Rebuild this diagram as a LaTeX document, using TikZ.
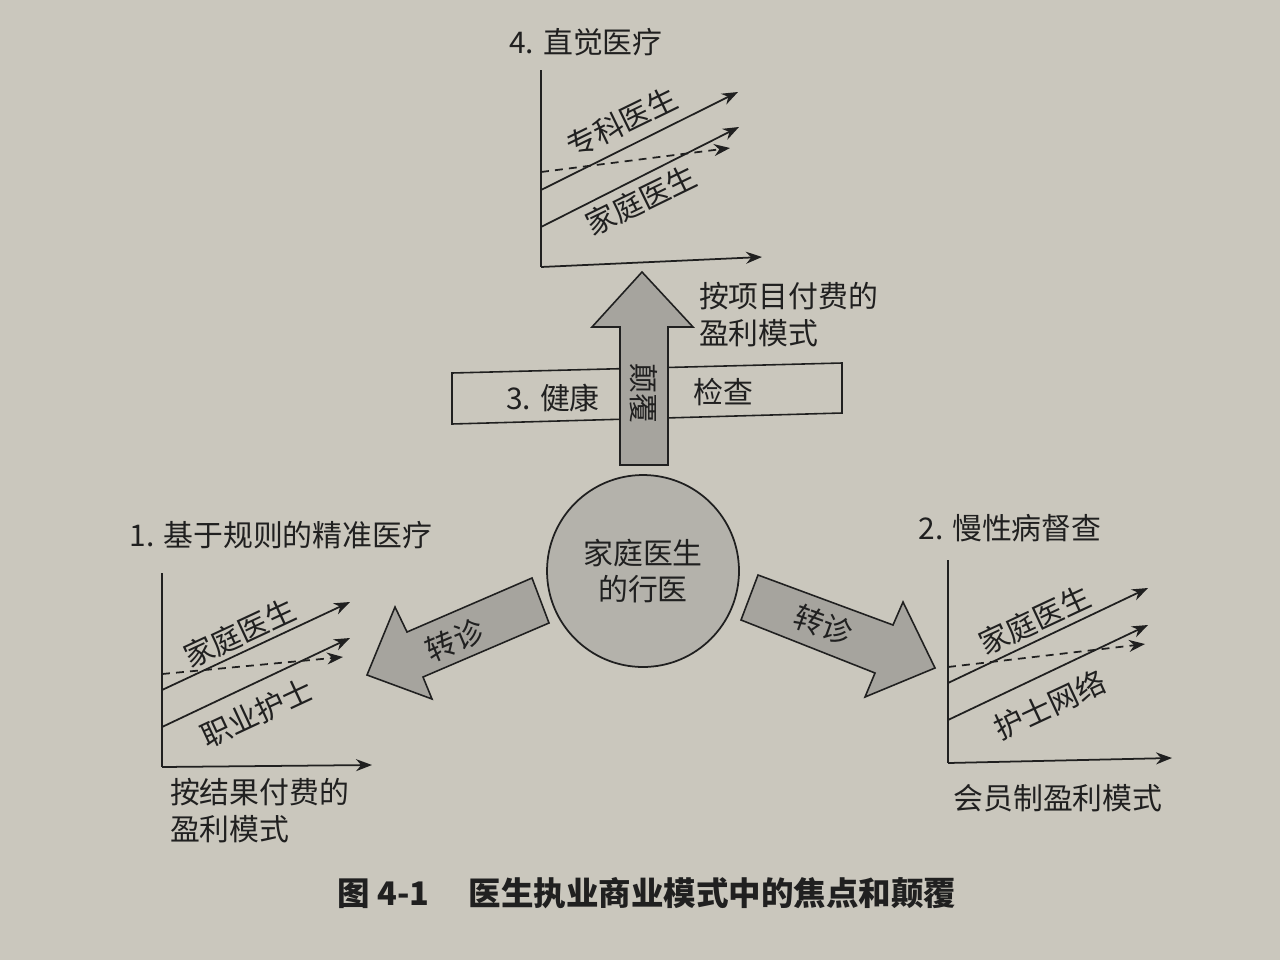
\documentclass[tikz,border=0pt]{standalone}
\usepackage{fontspec}
\setmainfont{Noto Sans CJK SC}
\usetikzlibrary{arrows.meta}
\definecolor{paper}{RGB}{202,199,189}
\definecolor{ink}{RGB}{32,32,32}
\definecolor{shade}{RGB}{166,164,158}
\definecolor{disc}{RGB}{180,178,171}

\begin{document}
\begin{tikzpicture}[x=0.02cm, y=-0.02cm,
  lbl/.style={font=\fontsize{17}{21}\selectfont, text=ink, inner sep=1pt},
  axis/.style={draw=ink, line width=1pt, -{Stealth[length=3.2mm, width=2.4mm]}},
  yaxis/.style={draw=ink, line width=1pt},
  guess/.style={axis, dash pattern=on 4.5pt off 3.5pt},
  bigarr/.style={draw=ink, line width=0.9pt, fill=shade, line join=miter},
  band/.style={draw=ink, line width=0.9pt, fill=paper}]
\fill[paper] (0,0) rectangle (1280,960);
\useasboundingbox (0,0) rectangle (1280,960);

% 4: intuitive care (top)
\node[lbl] (t4) at (586,42) {4. 直觉医疗};
\draw[yaxis] (541,70) -- (541,267);
\draw[axis] (541,267) -- (762,257);
\draw[axis] (541,190) -- (738,92);
\draw[axis] (541,227) -- (739,127);
\draw[guess] (541,172) -- (730,148);
\node[lbl, rotate=26] (sp4) at (622,122) {专科医生};
\node[lbl, rotate=26] (fd4) at (641,200) {家庭医生};
\node[lbl, anchor=west, align=left] (pay4) at (697,315) {按项目付费的\\盈利模式};

% 3: health check band, crossed by the disruption arrow
\draw[band] (452,373) -- (842,363) -- (842,413) -- (452,424) -- cycle;
\node[lbl] (t3) at (553,398) {3. 健康};
\node[lbl] (chk) at (723,392) {检查};
\draw[bigarr] (620,465) -- (620,327) -- (592,327) -- (642,272) -- (693,327)
  -- (668,327) -- (668,465) -- cycle;
\node[lbl, rotate=-90] (dis) at (644,393) {颠覆};

% hub
\node[lbl, circle, draw=ink, line width=1pt, fill=disc, minimum size=3.84cm,
      align=center] (hub) at (643,571) {家庭医生\\的行医};

% referral arrows
\draw[bigarr] (532,578) -- (407,632) -- (395,607) -- (367,675) -- (432,699)
  -- (423,677) -- (549,623) -- cycle;
\node[lbl, rotate=23] (refl) at (455,640) {转诊};
\draw[bigarr] (758,575) -- (893,625) -- (903,602) -- (935,668) -- (865,697)
  -- (875,673) -- (741,620) -- cycle;
\node[lbl, rotate=-20] (refr) at (823,625) {转诊};

% 1: rule-based precision care (left)
\node[lbl] (t1) at (281,535) {1. 基于规则的精准医疗};
\draw[yaxis] (162,573) -- (162,767);
\draw[axis] (162,767) -- (372,765);
\draw[axis] (162,690) -- (350,602);
\draw[axis] (162,727) -- (350,638);
\draw[guess] (162,674) -- (343,657);
\node[lbl, rotate=25] (fd1) at (240,633) {家庭医生};
\node[lbl, rotate=25] (nu1) at (257,713) {职业护士};
\node[lbl, anchor=west, align=left] (pay1) at (168,811) {按结果付费的\\盈利模式};

% 2: chronic disease monitoring (right)
\node[lbl] (t2) at (1010,528) {2. 慢性病督查};
\draw[yaxis] (948,560) -- (948,763);
\draw[axis] (948,763) -- (1172,758);
\draw[axis] (948,683) -- (1148,588);
\draw[axis] (948,720) -- (1148,625);
\draw[guess] (948,667) -- (1145,644);
\node[lbl, rotate=25] (fd2) at (1035,620) {家庭医生};
\node[lbl, rotate=25] (nu2) at (1050,705) {护士网络};
\node[lbl] (pay2) at (1058,798) {会员制盈利模式};

% caption
\node[font=\fontsize{18.5}{22}\selectfont\bfseries, text=ink] (cap) at (647,893)
  {图 4-1\hspace{1.2em}医生执业商业模式中的焦点和颠覆};
\end{tikzpicture}
\end{document}
